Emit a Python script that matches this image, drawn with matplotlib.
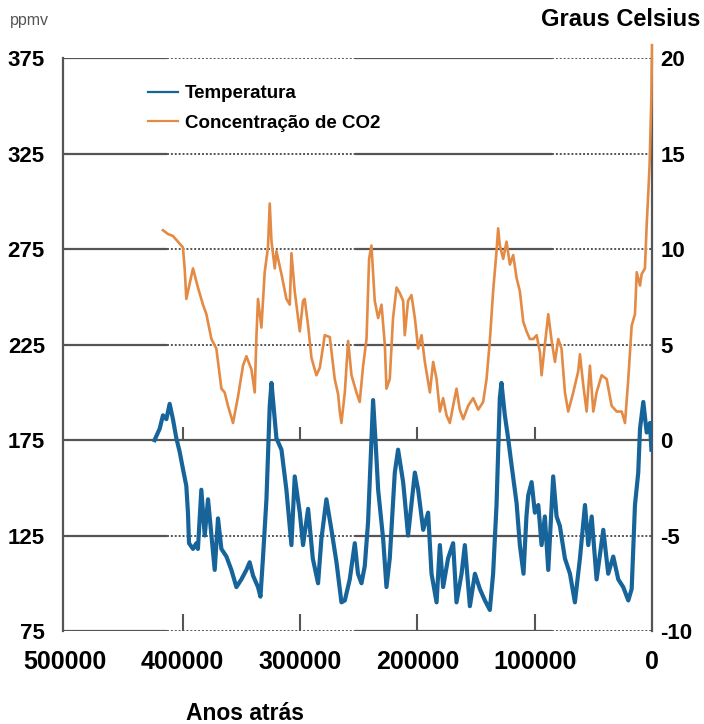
import matplotlib
matplotlib.use('Agg')
import matplotlib.pyplot as plt
from matplotlib.lines import Line2D

# CO2 (ppmv), anos atrás
co2_anos = [416800, 412500, 408300, 399800, 398300, 396900, 391200, 387000, 382700, 379800,
            375500, 371300, 367000, 364200, 361400, 357100, 352800, 348600, 345700, 341400,
            338600, 337100, 335800, 332900, 330100, 327300, 325800, 324300, 321500, 320100,
            315800, 311600, 308700, 307300, 304500, 300200, 297400, 296000, 293100, 290200,
            286000, 283100, 278900, 274600, 270400, 267500, 266100, 264700, 261800, 259000,
            256100, 251900, 249100, 246200, 243300, 241100, 239100, 236300, 233400, 230500,
            227700, 226300, 223500, 220700, 217700, 214900, 212100, 210700, 207900, 205000,
            202100, 199300, 196400, 193600, 189300, 186500, 183600, 180800, 178000, 175100,
            172300, 169500, 166600, 163800, 160900, 156700, 152400, 148100, 143900, 141000,
            138200, 135400, 132500, 131100, 129700, 126800, 124000, 121100, 118300, 115400,
            112600, 109700, 106900, 104100, 101200, 98300, 95500, 94100, 91300, 88400,
            85500, 82700, 79900, 77100, 74200, 71400, 67100, 62900, 61400, 58600,
            55700, 52900, 50000, 47200, 42900, 38600, 34400, 30100, 25800, 23000,
            20200, 17300, 14500, 13000, 10200, 8800, 6000, 4500, 3100, 2000,
            500, 0]
co2_ppmv = [285, 283, 282, 276, 265, 249, 265, 255, 246, 241,
            228, 223, 202, 200, 193, 184, 198, 214, 219, 212,
            200, 230, 249, 234, 263, 276, 299, 279, 265, 274,
            262, 249, 246, 273, 253, 232, 248, 249, 235, 218,
            209, 213, 230, 229, 207, 199, 190, 184, 200, 227,
            209, 200, 195, 214, 228, 270, 277, 248, 239, 246,
            225, 202, 207, 239, 255, 252, 248, 230, 248, 251,
            239, 223, 230, 216, 200, 216, 207, 190, 197, 188,
            184, 193, 202, 191, 186, 193, 197, 191, 195, 207,
            227, 253, 274, 286, 277, 270, 279, 267, 272, 260,
            253, 237, 232, 228, 228, 230, 221, 209, 225, 241,
            227, 216, 228, 223, 200, 190, 200, 211, 220, 204,
            190, 214, 190, 200, 209, 207, 193, 190, 190, 184,
            207, 235, 241, 263, 256, 262, 265, 288, 305, 320,
            355, 382]

# Temperatura (graus Celsius), anos atrás
temp_anos = [424000, 419600, 416800, 413900, 411100, 408300, 405400, 402600, 399800, 396900,
             395500, 394600, 391200, 388300, 387000, 384100, 381200, 378400, 375500, 372700,
             369900, 367000, 362700, 358500, 354200, 350000, 345700, 342900, 340000, 335800,
             333700, 331500, 328600, 325800, 324300, 320100, 315800, 311600, 307300, 304500,
             300200, 297400, 293100, 289100, 284600, 281800, 277500, 273200, 268900, 264700,
             261800, 257600, 253300, 250600, 247600, 244800, 242000, 237700, 235400, 233400,
             229100, 226300, 223500, 219200, 216400, 212100, 210700, 207900, 202100, 199300,
             195000, 190800, 187900, 183600, 180800, 178000, 173800, 169500, 166600, 162300,
             159500, 155200, 150900, 146700, 142400, 138200, 135400, 132500, 129700, 128300,
             125400, 122600, 119700, 115400, 112600, 109500, 107000, 105500, 102600, 99800,
             96900, 94100, 91300, 88400, 84200, 81300, 78500, 74200, 69900, 65700,
             61400, 57100, 54300, 51400, 47200, 41500, 37300, 33000, 28700, 24500,
             20200, 17300, 14500, 11700, 10200, 7400, 4500, 1700, 500]
temp_c = [0.0, 0.6, 1.3, 1.1, 1.9, 1.1, 0.1, -0.6, -1.5, -2.4,
          -3.8, -5.4, -5.7, -5.4, -5.7, -2.6, -5.0, -3.1, -5.0, -6.8,
          -4.1, -5.7, -6.1, -6.8, -7.7, -7.3, -6.8, -6.4, -7.1, -7.7,
          -8.2, -6.1, -3.1, 1.8, 3.0, 0.1, -0.5, -2.6, -5.5, -1.9,
          -3.8, -5.5, -3.6, -6.2, -7.5, -5.2, -3.1, -4.7, -6.4, -8.5,
          -8.4, -7.3, -5.4, -7.0, -7.5, -6.6, -4.3, 2.1, -0.3, -2.6,
          -5.2, -7.7, -6.2, -1.7, -0.5, -2.2, -3.1, -5.0, -1.7, -2.6,
          -4.7, -3.8, -7.0, -8.5, -5.5, -7.7, -6.2, -5.4, -8.5, -7.0,
          -5.5, -8.7, -7.0, -7.8, -8.4, -8.9, -7.0, -3.4, 2.2, 3.0,
          1.3, 0.1, -1.3, -3.3, -5.5, -7.0, -4.0, -2.9, -2.2, -3.8,
          -3.4, -5.5, -4.0, -6.8, -1.9, -4.0, -4.5, -6.2, -7.0, -8.5,
          -6.2, -3.4, -5.5, -4.0, -7.3, -4.7, -7.0, -6.1, -7.3, -7.7,
          -8.4, -7.8, -3.4, -1.7, 0.6, 2.0, 0.4, 0.9, -0.5]

x_ticks = [500000, 400000, 300000, 200000, 100000, 0]
ppmv_ticks = [75, 125, 175, 225, 275, 325, 375]
celsius_ticks = [-10, -5, 0, 5, 10, 15, 20]

AZUL = '#17649a'
LARANJA = '#e38a45'
CINZA = '#555555'
FONTE = ['Liberation Sans', 'DejaVu Sans']
plt.rcParams['font.family'] = FONTE

fig = plt.figure(figsize=(7.04, 7.24), dpi=100)
ax = fig.add_axes([0.0895, 0.1285, 0.8366, 0.7907])
ax.set_xlim(502000, 0)
ax.set_ylim(75, 375)

# linhas horizontais: trechos cheios e pontilhados como no original
for y in ppmv_ticks:
    if y == 175:
        ax.plot([502000, 0], [y, y], color=CINZA, lw=1.6, zorder=1)
        continue
    ax.plot([502000, 413500], [y, y], color=CINZA, lw=1.6, zorder=1, solid_capstyle='butt')
    ax.plot([413500, 253000], [y, y], color=CINZA, lw=1.4, ls=(0, (1, 1)), zorder=1)
    ax.plot([253000, 85000], [y, y], color=CINZA, lw=1.6, zorder=1, solid_capstyle='butt')
    ax.plot([85000, 0], [y, y], color=CINZA, lw=1.4, ls=(0, (1, 1)), zorder=1)

# pequenos traços sobre a linha de 175
ax.vlines(x_ticks[1:5], 175, 182, color=CINZA, lw=1.5, zorder=1)

ax.plot(co2_anos, co2_ppmv, color=LARANJA, lw=1.9, zorder=3, clip_on=False)

for s in ['top', 'bottom']:
    ax.spines[s].set_visible(False)
for s in ['left', 'right']:
    ax.spines[s].set_color(CINZA)
    ax.spines[s].set_linewidth(1.6)

ax.set_xticks(x_ticks)
ax.set_xticklabels([str(v) for v in x_ticks], fontsize=18, fontweight='bold')
ax.tick_params(axis='x', direction='in', length=12, width=1.5, color=CINZA, pad=14)
for t in (ax.xaxis.get_major_ticks()[0], ax.xaxis.get_major_ticks()[-1]):
    t.tick1line.set_visible(False)
ax.set_yticks(ppmv_ticks)
ax.set_yticklabels([str(v) for v in ppmv_ticks], fontsize=16, fontweight='bold')
ax.tick_params(axis='y', length=0, pad=13)

ax2 = ax.twinx()
ax2.set_ylim(-10, 20)
ax2.plot(temp_anos, temp_c, color=AZUL, lw=3, zorder=3)
for s in ax2.spines.values():
    s.set_visible(False)
ax2.set_yticks(celsius_ticks)
ax2.set_yticklabels([str(v) for v in celsius_ticks], fontsize=16, fontweight='bold')
ax2.tick_params(axis='y', length=0, pad=6)

handles = [Line2D([], [], color=AZUL, lw=1.6), Line2D([], [], color=LARANJA, lw=1.6)]
ax2.legend(handles, ['Temperatura', 'Concentração de CO2'], loc='upper left',
           bbox_to_anchor=(148 / 704, 1 - 85 / 724), bbox_transform=fig.transFigure,
           frameon=False, borderpad=0, borderaxespad=0, handlelength=1.6,
           handletextpad=0.37, labelspacing=0.66,
           prop={'family': FONTE, 'size': 13.5, 'weight': 'bold'})

fig.text(10 / 704, 1 - 20 / 724, 'ppmv', color=CINZA, fontsize=11.5, va='center', ha='left')
fig.text(700 / 704, 1 - 20 / 724, 'Graus Celsius', fontsize=17, fontweight='bold',
         va='center', ha='right')
fig.text(245 / 704, 1 - 713 / 724, 'Anos atrás', fontsize=16.5, fontweight='bold',
         va='center', ha='center')

fig.savefig('out.png', dpi=100)
